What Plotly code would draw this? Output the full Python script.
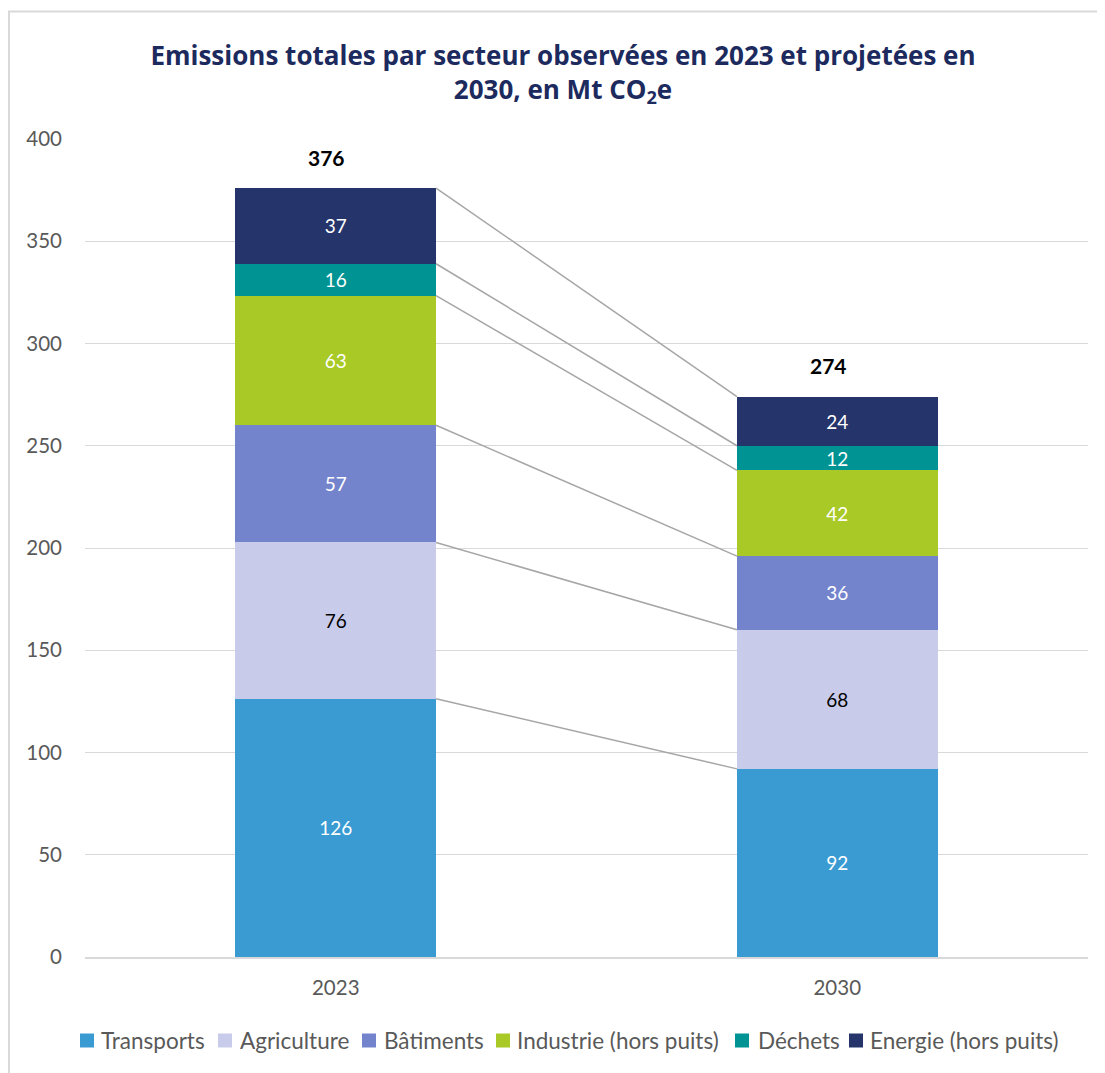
import plotly.graph_objects as go

years = ["2023", "2030"]
sectors = ["Transports", "Agriculture", "Bâtiments", "Industrie (hors puits)", "Déchets", "Energie (hors puits)"]
values_2023 = [126.3, 76.4, 57.3, 63.4, 15.6, 37.0]
values_2030 = [92, 68, 36, 42, 12, 24]
totals = [376, 274]
colors = ["#3a9bd3", "#c8cbea", "#7384cc", "#a8c926", "#009393", "#25346b"]
label_colors = ["white", "black", "white", "white", "white", "white"]

# layout geometry (figure pixels)
W, H = 1097, 1065
L, R, T, B = 77, 17, 131, 116
PW, PH = W - L - R, H - T - B
legend_square_x = [72, 210, 354, 488, 727, 841]
legend_text_x = [91, 230, 374, 507, 748, 860]
legend_y = 1032.5


def px_x(p):
    return (p - L) / PW


def px_y(p):
    return (H - B - p) / PH


xpos = [0, 1]
bar_w = 0.4

fig = go.Figure()
for i, s in enumerate(sectors):
    fig.add_trace(go.Bar(
        x=xpos, y=[values_2023[i], values_2030[i]], name=s,
        marker=dict(color=colors[i], line=dict(width=0)),
        width=bar_w,
        texttemplate="%{y:.0f}", textposition="inside", insidetextanchor="middle",
        constraintext="none",
        textfont=dict(color=label_colors[i], size=19, family="Lato"),
        textangle=0, hoverinfo="skip", showlegend=False,
    ))

# connector lines between cumulative tops
cum23, cum30 = 0, 0
for i in range(len(sectors)):
    cum23 += values_2023[i]
    cum30 += values_2030[i]
    fig.add_trace(go.Scatter(
        x=[xpos[0] + bar_w / 2, xpos[1] - bar_w / 2], y=[cum23, cum30],
        mode="lines", line=dict(color="#a6a6a6", width=1.5),
        showlegend=False, hoverinfo="skip",
    ))

for j in range(2):
    fig.add_annotation(x=xpos[j], y=totals[j], text="<b>%d</b>" % totals[j],
                       showarrow=False, yshift=31, xshift=-9,
                       font=dict(size=21, color="black", family="Lato"))

# manual legend
for i, s in enumerate(sectors):
    fig.add_shape(type="rect", xref="paper", yref="paper",
                  x0=px_x(legend_square_x[i]), x1=px_x(legend_square_x[i] + 14),
                  y0=px_y(legend_y + 7), y1=px_y(legend_y - 7),
                  fillcolor=colors[i], line=dict(width=0))
    fig.add_annotation(xref="paper", yref="paper",
                       x=px_x(legend_text_x[i]), y=px_y(legend_y),
                       xanchor="left", yanchor="middle", showarrow=False,
                       text=s, font=dict(size=22.5, color="#595959", family="Lato"))

fig.update_layout(
    width=W, height=H,
    margin=dict(l=L, r=R, t=T, b=B),
    paper_bgcolor="white", plot_bgcolor="white",
    barmode="stack",
    showlegend=False,
    title=dict(
        text="<b>Emissions totales par secteur observées en 2023 et projetées en<br>2030, en Mt CO<sub>2</sub>e</b>",
        x=555 / W, xanchor="center", xref="container",
        y=1 - 57 / H, yanchor="top",
        font=dict(size=26, color="#1c2a5e", family="Open Sans"),
    ),
    font=dict(family="Lato", color="#595959"),
    xaxis=dict(
        range=[-0.5, 1.5], tickvals=xpos, ticktext=years,
        showgrid=False, zeroline=False,
        showline=True, linecolor="#d9d9d9", linewidth=1.5,
        ticks="", tickfont=dict(size=20.5, color="#595959"), ticklabelstandoff=12,
    ),
    yaxis=dict(
        range=[0, 400], dtick=50, showgrid=True, gridcolor="#d9d9d9", gridwidth=1.3,
        zeroline=False, showline=False, ticks="",
        tickfont=dict(size=20.5, color="#595959"), ticklabelstandoff=22,
    ),
)

fig.add_shape(type="rect", xref="paper", yref="paper",
              x0=px_x(1), x1=px_x(W + 10),
              y0=px_y(H + 10), y1=px_y(3.5),
              line=dict(color="#d9d9d9", width=2), fillcolor="rgba(0,0,0,0)", layer="below")

fig.write_html("out.html")
